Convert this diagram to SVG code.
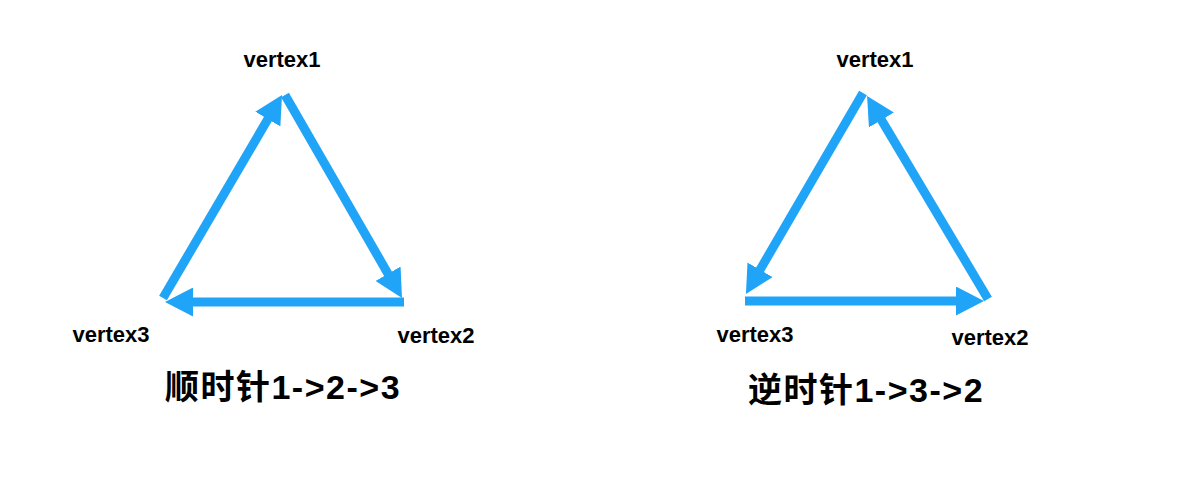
<svg xmlns="http://www.w3.org/2000/svg" width="1200" height="479" viewBox="0 0 1200 479">
<style>
.lbl{font-family:"Liberation Sans","Noto Sans CJK SC",Arial,sans-serif;font-weight:bold;font-size:22px;fill:#000;text-anchor:middle}
.ttl{font-family:"Liberation Sans","Noto Sans CJK SC",sans-serif;font-weight:bold;font-size:34px;fill:#000;text-anchor:middle;letter-spacing:1.5px}
.edge{stroke:#20A4F7;stroke-width:9;fill:none;marker-end:url(#ah)}
</style>
<defs>
<marker id="ah" markerUnits="userSpaceOnUse" markerWidth="28" markerHeight="29" refX="10" refY="14.5" orient="auto" viewBox="0 0 28 29">
<path d="M0,0 L28,14.5 L0,29 Z" fill="#20A4F7"/>
</marker>
</defs>
<rect width="1200" height="479" fill="#fff"/>
<g id="connectors">
<line class="edge" x1="163" y1="298" x2="272.9" y2="110.5"/>
<line class="edge" x1="285" y1="95" x2="393" y2="282.4"/>
<line class="edge" x1="404" y1="302" x2="183" y2="302"/>
<line class="edge" x1="863" y1="93" x2="755" y2="278.4"/>
<line class="edge" x1="745" y1="301" x2="966" y2="301"/>
<line class="edge" x1="988" y1="299" x2="876.3" y2="111.4"/>
</g>
<g id="left-vertex1"><text class="lbl" x="282" y="67">vertex1</text></g>
<g id="left-vertex2"><text class="lbl" x="436" y="343">vertex2</text></g>
<g id="left-vertex3"><text class="lbl" x="111" y="342">vertex3</text></g>
<g id="right-vertex1"><text class="lbl" x="875" y="67">vertex1</text></g>
<g id="right-vertex2"><text class="lbl" x="990" y="345">vertex2</text></g>
<g id="right-vertex3"><text class="lbl" x="755" y="342">vertex3</text></g>
<g id="left-title"><text class="ttl" x="283" y="399">顺时针1-&gt;2-&gt;3</text></g>
<g id="right-title"><text class="ttl" x="866" y="402">逆时针1-&gt;3-&gt;2</text></g>
</svg>
